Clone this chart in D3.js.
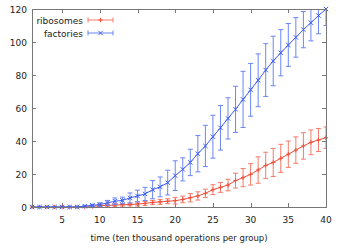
<!DOCTYPE html>
<html>
<head>
<meta charset="utf-8">
<script src="https://d3js.org/d3.v7.min.js"></script>
<style>
  body { margin: 0; background: #fff; }
  svg { display: block; font-family: "DejaVu Sans", sans-serif; }
</style>
</head>
<body>
<div id="chart"></div>
<script>
// time steps 1..40
const times = d3.range(1, 41);

// ribosomes (red, +)
const ribosomes = [0, 0, 0, 0, 0, 0, 0, 0, 0.3, 0.8,
  1, 1.2, 1.4, 1.5, 1.8, 2.2, 2.8, 3.1, 3.5, 3.8,
  4.6, 5.6, 6.7, 8.3, 10.5, 11.9, 13.3, 16, 17.8, 19.8,
  22.4, 25.2, 27, 29.5, 32, 34.5, 37, 39.2, 40.6, 42];
const ribosomesErr = [0.3, 0.3, 0.3, 0.3, 0.3, 0.3, 0.3, 0.3, 0.3, 0.8,
  0.8, 0.8, 0.8, 0.8, 1.2, 1.2, 1.2, 1.5, 1.5, 2,
  2, 2.5, 2.5, 2.5, 3, 3, 3.5, 4.5, 5.5, 6.5,
  8, 8, 8.5, 8.5, 8, 8, 8, 7.5, 7, 6.5];

// factories (blue, x)
const factories = [0, 0, 0, 0, 0, 0, 0, 0.5, 1, 1.5,
  2.5, 3.5, 4, 5.5, 6.7, 7.9, 10.5, 12.2, 14.8, 19,
  22.8, 27, 32.3, 37, 42.6, 48, 53.7, 59.2, 65.2, 71,
  76.8, 83, 88.5, 93.5, 98.2, 102.8, 107.5, 111.7, 116, 120];
const factoriesErr = [0.3, 0.3, 0.3, 0.3, 0.3, 0.3, 0.3, 0.5, 0.7, 1,
  1.5, 2, 2, 3, 3.5, 4, 5.5, 6, 7.5, 9,
  7, 8, 11, 12.5, 13, 13.5, 12.5, 14, 17, 16,
  16, 16, 15, 14, 13, 12, 11, 11, 11, 10];

const xTicks = [5, 10, 15, 20, 25, 30, 35, 40];
const yTicks = [0, 20, 40, 60, 80, 100, 120];

const width = 341, height = 248;
const margin = { left: 32, right: 15, top: 9, bottom: 41 };

const svg = d3.select("#chart").append("svg")
    .attr("width", width)
    .attr("height", height);

const x = d3.scaleLinear().domain([1, 40]).range([margin.left, width - margin.right]);
const y = d3.scaleLinear().domain([0, 120]).range([height - margin.bottom, margin.top]);

const frameColor = "#777";

// clip for error bars
svg.append("clipPath").attr("id", "clip")
  .append("rect")
    .attr("x", margin.left).attr("y", margin.top)
    .attr("width", x.range()[1] - margin.left)
    .attr("height", y.range()[0] - margin.top);

// ticks (inward, mirrored on top and right)
const tickLen = 4;
const g = svg.append("g").attr("stroke", frameColor).attr("stroke-width", 1);
xTicks.forEach(t => {
  const px = Math.round(x(t)) + 0.5;
  g.append("line").attr("x1", px).attr("x2", px).attr("y1", y(0)).attr("y2", y(0) - tickLen);
  g.append("line").attr("x1", px).attr("x2", px).attr("y1", y(120)).attr("y2", y(120) + tickLen);
});
yTicks.forEach(t => {
  const py = Math.round(y(t)) + 0.5;
  g.append("line").attr("x1", x(1)).attr("x2", x(1) + tickLen).attr("y1", py).attr("y2", py);
  g.append("line").attr("x1", x(40)).attr("x2", x(40) - tickLen).attr("y1", py).attr("y2", py);
});

// tick labels
svg.append("g").selectAll("text").data(xTicks).join("text")
    .attr("x", d => x(d)).attr("y", y(0) + 15.5)
    .attr("text-anchor", "middle")
    .attr("font-size", 9).attr("fill", "#222")
    .text(d => d);
svg.append("g").selectAll("text").data(yTicks).join("text")
    .attr("x", margin.left - 5).attr("y", d => y(d) + 3.5)
    .attr("text-anchor", "end")
    .attr("font-size", 9).attr("fill", "#222")
    .text(d => d);

// axis label
svg.append("text")
    .attr("x", (x(1) + x(40)) / 2).attr("y", 241)
    .attr("text-anchor", "middle")
    .attr("font-size", 8.5).attr("fill", "#222")
    .text("time (ten thousand operations per group)");

const series = [
  { name: "ribosomes", vals: ribosomes, err: ribosomesErr, color: "#f0503c", errColor: "#f47a6a", marker: "plus" },
  { name: "factories", vals: factories, err: factoriesErr, color: "#3e5ef0", errColor: "#6a86f4", marker: "cross" }
];

const capW = 2.5, mk = 2.2;
const line = d3.line().x(d => x(d[0])).y(d => y(d[1]));

function drawMarker(sel, cx, cy, kind, color) {
  if (kind === "plus") {
    sel.append("path").attr("d", `M${cx - mk},${cy}H${cx + mk}M${cx},${cy - mk}V${cy + mk}`)
      .attr("stroke", color).attr("stroke-width", 1).attr("fill", "none");
  } else {
    sel.append("path").attr("d", `M${cx - mk},${cy - mk}L${cx + mk},${cy + mk}M${cx - mk},${cy + mk}L${cx + mk},${cy - mk}`)
      .attr("stroke", color).attr("stroke-width", 1).attr("fill", "none");
  }
}

series.forEach(s => {
  const pts = times.map((t, i) => [t, s.vals[i], s.err[i]]);
  const gs = svg.append("g");
  // error bars
  const eb = gs.append("g").attr("clip-path", "url(#clip)")
      .attr("stroke", s.errColor).attr("stroke-width", 1).attr("fill", "none");
  pts.forEach(d => {
    const cx = x(d[0]), y1 = y(d[1] + d[2]), y2 = y(d[1] - d[2]);
    eb.append("path").attr("d",
      `M${cx},${y1}V${y2}M${cx - capW},${y1}H${cx + capW}M${cx - capW},${y2}H${cx + capW}`);
  });
  // line
  gs.append("path").datum(pts).attr("d", line)
      .attr("fill", "none").attr("stroke", s.color).attr("stroke-width", 1);
  // markers
  pts.forEach(d => drawMarker(gs, x(d[0]), y(d[1]), s.marker, s.color));
});

// frame
svg.append("rect")
    .attr("x", margin.left + 0.5).attr("y", margin.top + 0.5)
    .attr("width", x(40) - x(1)).attr("height", y(0) - y(120))
    .attr("fill", "none").attr("stroke", frameColor).attr("stroke-width", 1);

// legend
const legend = svg.append("g");
series.forEach((s, i) => {
  const ly = 20 + i * 13;
  legend.append("text")
      .attr("x", 83).attr("y", ly + 3.5)
      .attr("text-anchor", "end")
      .attr("font-size", 9).attr("fill", "#222")
      .text(s.name);
  legend.append("path")
      .attr("d", `M88,${ly}H113M88,${ly - capW}V${ly + capW}M113,${ly - capW}V${ly + capW}`)
      .attr("stroke", s.errColor).attr("stroke-width", 1).attr("fill", "none");
  drawMarker(legend, 100.5, ly, s.marker, s.color);
});
</script>
</body>
</html>
